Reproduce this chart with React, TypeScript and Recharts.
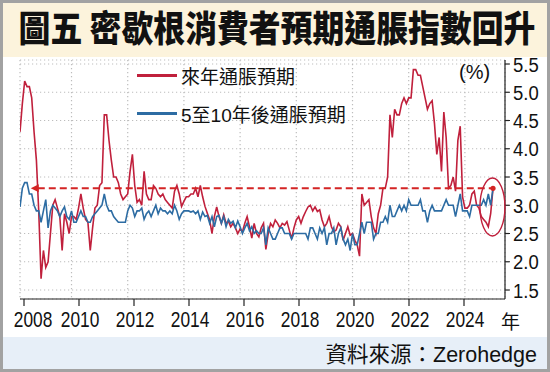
import React from 'react';
import {
  LineChart,
  Line,
  XAxis,
  YAxis,
  CartesianGrid,
  ReferenceLine,
  ReferenceDot,
  Legend,
} from 'recharts';

// ---------- data ----------
const START_YEAR = 2008;
const START_MONTH = 3; // first observation: March 2008, monthly thereafter

const SERIES_NAMES = ['來年通脹預期', '5至10年後通脹預期'];

// 1-year-ahead inflation expectations (%), Mar 2008 .. Jan 2025
const oneYearAhead: number[] = [
  4.3, 4.8, 5.2, 5.1, 5.1, 4.9, 4.3, 3.8, 2.9, 1.7, // 2008 Mar-Dec
  2.2, 1.9, 2.0, 2.5, 3.0, 3.1, 2.95, 2.8, 2.2, 2.85, 2.7, 2.5, // 2009
  2.8, 2.8, 2.75, 2.95, 3.2, 2.95, 2.75, 2.7, 2.2, 2.6, 2.95, 3.0, // 2010
  3.35, 3.4, 4.6, 4.6, 4.15, 3.8, 3.5, 3.5, 3.4, 3.2, 3.1, 3.15, // 2011
  3.2, 3.6, 3.9, 3.35, 3.05, 3.1, 3.0, 3.6, 3.2, 3.1, 3.1, 3.35, // 2012
  3.3, 3.2, 3.15, 3.2, 3.1, 3.05, 3.0, 2.95, 3.25, 3.35, 3.2, 2.98, // 2013
  3.07, 3.15, 3.15, 3.2, 3.2, 3.3, 3.15, 3.35, 3.15, 2.98, 2.86, 2.74, // 2014
  2.5, 2.8, 2.97, 2.8, 2.68, 2.83, 2.68, 2.72, 2.62, 2.68, 2.6, 2.5, // 2015
  2.58, 2.53, 2.68, 2.8, 2.62, 2.42, 2.68, 2.5, 2.44, 2.6, 2.68, 2.22, // 2016
  2.5, 2.68, 2.62, 2.74, 2.68, 2.6, 2.68, 2.65, 2.71, 2.56, 2.41, 2.6, // 2017
  2.74, 2.8, 2.68, 2.8, 2.89, 2.97, 3.0, 2.9, 2.97, 2.89, 2.92, 2.74, // 2018
  2.62, 2.68, 2.8, 2.62, 2.53, 2.56, 2.68, 2.62, 2.38, 2.5, 2.62, 2.47, // 2019
  2.5, 2.38, 2.3, 2.1, 3.2, 3.0, 3.05, 3.1, 2.8, 2.6, 2.5, 2.85, // 2020
  3.0, 3.3, 3.3, 3.5, 4.6, 4.2, 4.7, 4.6, 4.6, 4.8, 4.9, 4.8, // 2021
  4.9, 4.9, 5.4, 5.4, 5.3, 5.3, 5.1, 4.9, 4.7, 4.8, 4.85, 4.45, // 2022
  3.9, 4.2, 3.6, 4.65, 4.2, 3.3, 3.35, 3.5, 3.25, 4.15, 4.4, 3.15, // 2023
  2.95, 2.95, 3.0, 3.2, 3.25, 3.0, 2.95, 2.8, 2.75, 2.7, 2.62, 2.85, // 2024
  3.3, // 2025 Jan
];

// 5-10-year-ahead inflation expectations (%), Mar 2008 .. Jan 2025
const fiveToTenYear: number[] = [
  2.97, 3.3, 3.4, 3.4, 3.2, 3.2, 3.0, 2.9, 2.9, 2.7, // 2008 Mar-Dec
  2.9, 3.1, 2.6, 2.9, 3.0, 2.95, 2.9, 2.8, 2.9, 2.97, 2.8, 2.75, // 2009
  2.9, 2.7, 2.7, 2.8, 2.9, 2.8, 2.8, 2.7, 2.7, 2.8, 2.85, 2.9, // 2010
  2.95, 3.0, 3.2, 3.0, 2.9, 2.9, 2.8, 2.75, 2.7, 2.7, 2.7, 2.7, // 2011
  2.9, 3.0, 2.95, 2.8, 2.9, 2.9, 2.95, 2.75, 2.85, 2.9, 2.8, 2.9, // 2012
  3.0, 2.85, 2.95, 2.9, 2.9, 2.85, 2.9, 2.85, 3.0, 2.9, 2.75, 2.85, // 2013
  2.9, 2.9, 2.9, 2.88, 2.9, 2.85, 2.9, 2.75, 2.88, 2.8, 2.82, 2.68, // 2014
  2.8, 2.62, 2.8, 2.82, 2.68, 2.8, 2.62, 2.75, 2.68, 2.72, 2.6, 2.72, // 2015
  2.62, 2.5, 2.6, 2.68, 2.55, 2.62, 2.5, 2.55, 2.5, 2.5, 2.6, 2.3, // 2016
  2.6, 2.5, 2.4, 2.4, 2.5, 2.6, 2.6, 2.5, 2.5, 2.5, 2.4, 2.5, // 2017
  2.5, 2.5, 2.5, 2.5, 2.5, 2.4, 2.6, 2.6, 2.5, 2.4, 2.6, 2.5, // 2018
  2.6, 2.3, 2.5, 2.5, 2.6, 2.3, 2.5, 2.6, 2.4, 2.3, 2.4, 2.2, // 2019
  2.5, 2.3, 2.3, 2.5, 2.7, 2.5, 2.7, 2.7, 2.7, 2.4, 2.5, 2.5, // 2020
  2.7, 2.7, 2.8, 2.7, 3.0, 2.8, 2.8, 2.9, 3.0, 2.9, 3.0, 2.9, // 2021
  3.1, 3.0, 3.0, 3.0, 3.0, 3.1, 2.9, 2.9, 2.7, 2.9, 3.0, 2.9, // 2022
  2.9, 2.9, 2.9, 3.0, 3.1, 3.0, 3.0, 3.0, 2.8, 3.0, 3.2, 2.9, // 2023
  2.9, 2.9, 2.8, 3.0, 3.0, 3.0, 3.0, 3.0, 3.1, 3.0, 3.2, 3.0, // 2024
  3.3, // 2025 Jan
];

const yearLabelTicks = [2008, 2010, 2012, 2014, 2016, 2018, 2020, 2022, 2024];
const gridYearTicks = [2010, 2012, 2014, 2016, 2018, 2020, 2022, 2024];
const valueTicks = [1.5, 2.0, 2.5, 3.0, 3.5, 4.0, 4.5, 5.0, 5.5];

// annotation anchors (data units)
const REF_LEVEL = 3.3;
const ARROW_FROM_YEAR = 2008.55;
const LATEST_YEAR = 2025.0;
const CIRCLE_YEAR = 2024.98;
const CIRCLE_VALUE = 2.97;

const chartData = oneYearAhead.map((v, i) => ({
  t: START_YEAR + (START_MONTH - 1 + i) / 12,
  a: v,
  b: fiveToTenYear[i],
}));

// ---------- styles ----------
const RED = '#c0203c';
const BLUE = '#2d6ca3';
const DASH_RED = '#d42424';
const CJK = "'Noto Sans CJK TC', 'Noto Sans CJK SC', sans-serif";
const LATIN_CJK = "'Liberation Sans', 'Noto Sans CJK TC', sans-serif";

const XTick = (props: any) => {
  const { x, y, payload, index } = props;
  const nudge = index === 0 ? 9 : 1;
  return (
    <g transform={`translate(${x + nudge},${y})`}>
      <text
        transform="scale(0.77,1)"
        x={0}
        y={0}
        dy="0.72em"
        textAnchor="middle"
        fontSize={22.5}
        fontFamily="'Liberation Sans', Arial, sans-serif"
        fill="#111"
      >
        {payload.value}
      </text>
    </g>
  );
};

const YTick = (props: any) => {
  const { x, y, payload } = props;
  return (
    <g transform={`translate(${x},${y})`}>
      <text
        transform="scale(0.88,1)"
        x={0}
        y={0}
        dy="0.36em"
        textAnchor="start"
        fontSize={21}
        fontFamily="'Liberation Sans', Arial, sans-serif"
        fill="#111"
      >
        {Number(payload.value).toFixed(1)}
      </text>
    </g>
  );
};

const ArrowShape = (props: any) => {
  const { x1, y1, x2 } = props;
  const left = Math.min(x1, x2);
  const right = Math.max(x1, x2);
  const head = 8;
  return (
    <g>
      <line
        x1={left + head - 1}
        y1={y1}
        x2={right}
        y2={y1}
        stroke={DASH_RED}
        strokeWidth={2}
        strokeDasharray="7 4"
      />
      <polygon
        points={`${left},${y1} ${left + head},${y1 - 4} ${left + head},${y1 + 4}`}
        fill={DASH_RED}
      />
    </g>
  );
};

const EllipseShape = (props: any) => {
  const { cx, cy } = props;
  return <ellipse cx={cx} cy={cy} rx={12.5} ry={29} fill="none" stroke={RED} strokeWidth={1.4} />;
};

const renderLegend = (props: any) => {
  const items = [...(props.payload || [])].sort(
    (p: any, q: any) => SERIES_NAMES.indexOf(p.value) - SERIES_NAMES.indexOf(q.value),
  );
  return (
    <div style={{ fontFamily: LATIN_CJK, fontSize: 19, color: '#111' }}>
      {items.map((p: any, i: number) => (
        <div key={i} style={{ display: 'flex', alignItems: 'center', height: 38, whiteSpace: 'nowrap' }}>
          <span
            style={{
              display: 'inline-block',
              width: 40,
              height: 3,
              background: p.color,
              marginRight: 4,
            }}
          />
          <span>{p.value}</span>
        </div>
      ))}
    </div>
  );
};

export default function App() {
  return (
    <div
      style={{
        position: 'absolute',
        left: 0,
        top: 0,
        width: 550,
        height: 372,
        background: '#ffffff',
        overflow: 'hidden',
      }}
    >
      {/* title band */}
      <div
        style={{
          position: 'absolute',
          left: 0,
          top: 0,
          width: 550,
          height: 57,
          background: '#fcf3dc',
        }}
      />
      <div
        style={{
          position: 'absolute',
          left: 277,
          top: 9,
          height: 36,
          lineHeight: '36px',
          fontFamily: CJK,
          fontWeight: 900,
          fontSize: 33,
          color: '#111',
          transform: 'translateX(-50%) scale(0.965, 1.1)',
          whiteSpace: 'nowrap',
        }}
      >
        圖五 密歇根消費者預期通脹指數回升
      </div>

      {/* source band */}
      <div
        style={{
          position: 'absolute',
          left: 0,
          top: 337,
          width: 550,
          height: 35,
          background: '#e7eff8',
        }}
      />

      <div style={{ position: 'absolute', left: 0, top: 0 }}>
        <LineChart
          width={550}
          height={372}
          data={chartData}
          margin={{ top: 60, right: 0, bottom: 0, left: 20 }}
        >
          <CartesianGrid
            xAxisId="data"
            yAxisId="v"
            stroke="#bdbdbd"
            strokeWidth={1.2}
            strokeDasharray="1.2 2.8"
          />
          <XAxis
            xAxisId="data"
            dataKey="t"
            type="number"
            orientation="top"
            height={0}
            domain={[2008.1667, 2025.427]}
            ticks={gridYearTicks}
            allowDataOverflow
            hide
          />
          <XAxis
            xAxisId="lbl"
            dataKey="t"
            type="number"
            orientation="bottom"
            domain={[2007.8545, 2025.4909]}
            ticks={yearLabelTicks}
            interval={0}
            allowDataOverflow
            height={73}
            tickSize={7}
            tickMargin={5}
            tick={<XTick />}
            axisLine={{ stroke: '#222', strokeWidth: 1.2 }}
            tickLine={{ stroke: '#222', strokeWidth: 1.2 }}
          />
          <YAxis
            yAxisId="v"
            orientation="right"
            type="number"
            domain={[1.341, 5.571]}
            ticks={valueTicks}
            interval={0}
            allowDataOverflow
            width={45}
            tickSize={5}
            tickMargin={3}
            tick={<YTick />}
            axisLine={{ stroke: '#222', strokeWidth: 1.2 }}
            tickLine={{ stroke: '#222', strokeWidth: 1.2 }}
          />
          <Legend
            layout="vertical"
            align="center"
            verticalAlign="middle"
            content={renderLegend}
            wrapperStyle={{ left: 137, top: 56, width: 260 }}
          />
          <Line
            xAxisId="data"
            yAxisId="v"
            dataKey="a"
            name={SERIES_NAMES[0]}
            stroke={RED}
            strokeWidth={1.6}
            dot={false}
            isAnimationActive={false}
          />
          <Line
            xAxisId="data"
            yAxisId="v"
            dataKey="b"
            name={SERIES_NAMES[1]}
            stroke={BLUE}
            strokeWidth={1.6}
            dot={false}
            isAnimationActive={false}
          />
          <ReferenceLine
            xAxisId="data"
            yAxisId="v"
            segment={[
              { x: ARROW_FROM_YEAR, y: REF_LEVEL },
              { x: LATEST_YEAR, y: REF_LEVEL },
            ]}
            shape={ArrowShape}
          />
          <ReferenceDot
            xAxisId="data"
            yAxisId="v"
            x={LATEST_YEAR}
            y={REF_LEVEL}
            r={2.6}
            fill={DASH_RED}
            stroke="none"
          />
          <ReferenceDot
            xAxisId="data"
            yAxisId="v"
            x={CIRCLE_YEAR}
            y={CIRCLE_VALUE}
            shape={EllipseShape}
          />
        </LineChart>
      </div>

      {/* unit label */}
      <div
        style={{
          position: 'absolute',
          left: 459,
          top: 61,
          fontFamily: "'Liberation Sans', Arial, sans-serif",
          fontSize: 20,
          lineHeight: '22px',
          color: '#111',
        }}
      >
        (%)
      </div>
      {/* year unit */}
      <div
        style={{
          position: 'absolute',
          left: 501,
          top: 309,
          fontFamily: CJK,
          fontSize: 19,
          lineHeight: '24px',
          color: '#111',
        }}
      >
        年
      </div>
      {/* source */}
      <div
        style={{
          position: 'absolute',
          right: 13,
          top: 342,
          fontFamily: LATIN_CJK,
          fontSize: 21.5,
          lineHeight: '26px',
          color: '#111',
          whiteSpace: 'nowrap',
        }}
      >
        資料來源：Zerohedge
      </div>

      {/* frame */}
      <div
        style={{
          position: 'absolute',
          left: 0,
          top: 0,
          width: 550,
          height: 372,
          boxSizing: 'border-box',
          border: '3px solid #a2a2a2',
          pointerEvents: 'none',
        }}
      />
    </div>
  );
}
